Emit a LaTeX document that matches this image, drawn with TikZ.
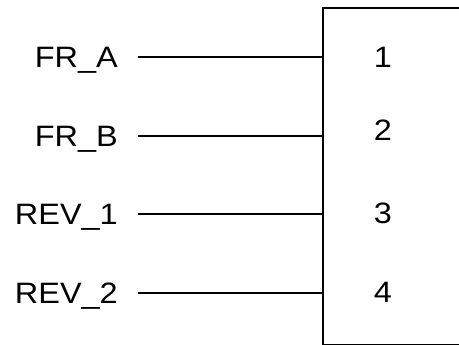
\documentclass[tikz,border=0pt]{standalone}
\usepackage{fontspec}
\setmainfont{Liberation Sans}[FakeStretch=1.1]
\begin{document}
\begin{tikzpicture}[x=1pt,y=-1pt,
  every node/.style={font=\fontsize{29.5}{34}\selectfont},
  sig/.style={anchor=east, inner xsep=20pt, inner ysep=0pt, text height=21pt, text depth=0pt},
  pinno/.style={inner sep=0pt, text height=21pt, text depth=0pt},
  wire/.style={line width=1.6pt}]
\useasboundingbox (0,0) rectangle (459,345);
\clip (0,0) rectangle (459,345);

% connector body, right side runs off the picture
\node[draw, line width=1.6pt, inner sep=0pt, minimum width=200pt, minimum height=337pt, anchor=north west] (conn) at (322,7) {};

\node[sig] (fra) at (138,57) {FR\_A};
\node[sig] (frb) at (138,136) {FR\_B};
\node[sig] (rev1) at (138,214) {REV\_1};
\node[sig] (rev2) at (138,293) {REV\_2};

\node[pinno] (p1) at (383,57) {1};
\node[pinno] (p2) at (383,130) {2};
\node[pinno] (p3) at (383,213) {3};
\node[pinno] (p4) at (383,292) {4};

\draw[wire] (fra) -- (fra -| conn.west);
\draw[wire] (frb) -- (frb -| conn.west);
\draw[wire] (rev1) -- (rev1 -| conn.west);
\draw[wire] (rev2) -- (rev2 -| conn.west);
\end{tikzpicture}
\end{document}
